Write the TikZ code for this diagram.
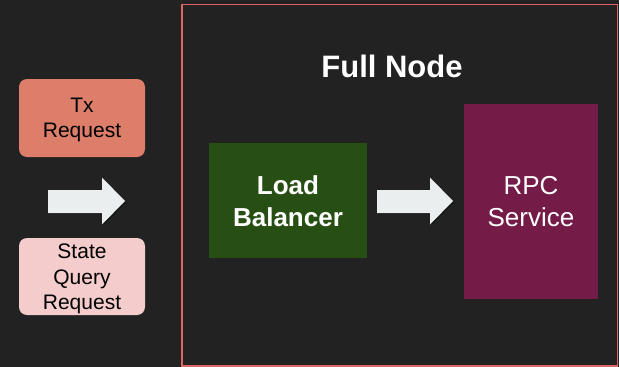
\documentclass[tikz,border=0pt]{standalone}
\usepackage{fontspec}
\setmainfont{Liberation Sans}
\usetikzlibrary{calc}
\definecolor{bg}{HTML}{222222}
\definecolor{frame}{HTML}{E06666}
\definecolor{txfill}{HTML}{DD7E6B}
\definecolor{queryfill}{HTML}{F4CCCC}
\definecolor{lbfill}{HTML}{274E13}
\definecolor{rpcfill}{HTML}{741B47}
\definecolor{arrowfill}{HTML}{EAEEEF}
\tikzset{
  reqtext/.style={align=center, text=black, font=\fontsize{21}{25.5}\selectfont, text depth=0pt, inner sep=0pt},
  lbtext/.style={align=center, text=white, font=\fontsize{26}{32}\selectfont\bfseries, text depth=0pt, inner sep=0pt},
  rpctext/.style={align=center, text=white, font=\fontsize{26}{32}\selectfont, text depth=0pt, inner sep=0pt},
  titletext/.style={text=white, font=\fontsize{31}{36}\selectfont\bfseries, inner sep=0pt},
  blockarrow/.style={fill=arrowfill},
  arrowshadow/.style={fill=black, opacity=0.35},
}
\begin{document}
\begin{tikzpicture}[x=1pt, y=-1pt]
  % canvas
  \fill[bg] (0,0) rectangle (619,367);
  \useasboundingbox (0,0) rectangle (619,367);

  % full node frame
  \draw[frame, line width=1.5pt] (182,4.5) rectangle (617.5,366) ;
  \node[titletext] (title) at (392,66.5) {Full Node};

  % incoming requests
  \fill[txfill, rounded corners=8pt] (19,79) rectangle (145,157);
  \coordinate (txc) at (82,118);
  \node[reqtext] (tx) at (txc) {Tx\\Request};

  \fill[queryfill, rounded corners=8pt] (19,238) rectangle (145,315);
  \coordinate (qc) at (82,277);
  \node[reqtext] (query) at (qc) {State\\Query\\Request};

  % load balancer and rpc service
  \fill[lbfill] (209,143) rectangle (367,258);
  \node[lbtext] (lb) at (288,201) {Load\\Balancer};

  \fill[rpcfill] (464,104) rectangle (598,299);
  \node[rpctext] (rpc) at (531,201.5) {RPC\\Service};

  % block arrows
  \foreach \xa/\xb/\xc in {48/102/125, 377/430/453}{
    \fill[arrowshadow] ($(\xa,190)+(1.2,1.2)$) -- ($(\xb,190)+(1.2,1.2)$) -- ($(\xb,177.5)+(1.2,1.2)$) -- ($(\xc,201)+(1.2,1.2)$)
      -- ($(\xb,224.5)+(1.2,1.2)$) -- ($(\xb,213)+(1.2,1.2)$) -- ($(\xa,213)+(1.2,1.2)$) -- cycle;
    \fill[blockarrow] (\xa,190) -- (\xb,190) -- (\xb,177.5) -- (\xc,201)
      -- (\xb,224.5) -- (\xb,213) -- (\xa,213) -- cycle;
  }
\end{tikzpicture}
\end{document}
